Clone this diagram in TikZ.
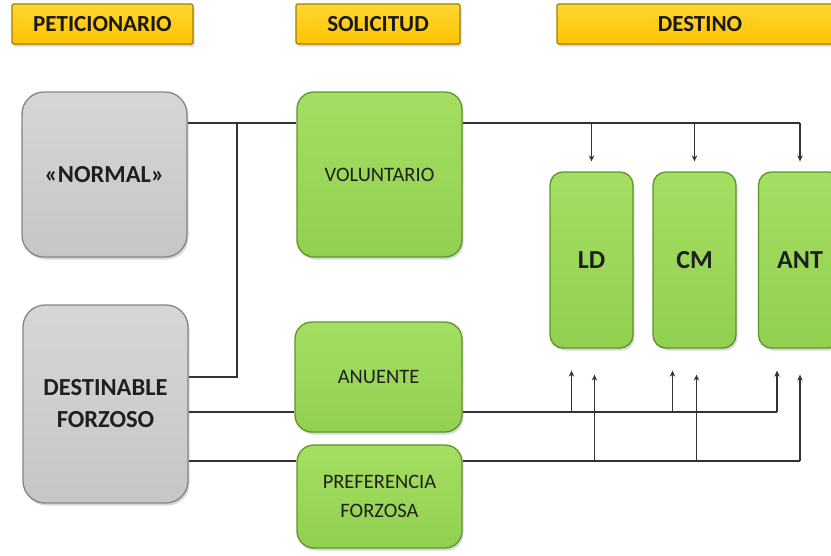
\documentclass[tikz,border=0pt]{standalone}
\usepackage{fontspec}
\setmainfont{Carlito}
\usetikzlibrary{shadows,arrows.meta,calc}
\definecolor{gold}{HTML}{FFC400}
\definecolor{goldlt}{HTML}{FFD633}
\definecolor{golddk}{HTML}{A07E00}
\definecolor{gry}{HTML}{C6C6C6}
\definecolor{grylt}{HTML}{D6D6D6}
\definecolor{grydk}{HTML}{858585}
\definecolor{grn}{HTML}{92D050}
\definecolor{grnlt}{HTML}{A4DE62}
\definecolor{grndk}{HTML}{5B9628}
\definecolor{ln}{HTML}{333333}
\begin{document}
\begin{tikzpicture}[x=1pt,y=-1pt,
  shad/.style={drop shadow={opacity=0.3,shadow xshift=1.5pt,shadow yshift=-2.5pt}},
  hdr/.style={rectangle,draw=golddk,line width=1.3pt,top color=goldlt,bottom color=gold,
    rounded corners=1.5pt,minimum height=40pt,inner sep=0pt,shad,
    font=\bfseries\fontsize{23}{26}\selectfont,text=black!90},
  grybox/.style={rectangle,draw=grydk,line width=1.3pt,top color=grylt,bottom color=gry,
    rounded corners=22pt,minimum width=165pt,inner sep=0pt,shad,align=center,
    font=\bfseries\fontsize{24.5}{32}\selectfont,text=black!88},
  grnbox/.style={rectangle,draw=grndk,line width=1.3pt,top color=grnlt,bottom color=grn,
    rounded corners=17pt,minimum width=165pt,inner sep=0pt,shad,align=center,
    font=\fontsize{20.5}{29}\selectfont,text=black!88},
  dstbox/.style={grnbox,rounded corners=13pt,minimum width=83pt,minimum height=176pt,
    font=\bfseries\fontsize{26}{30}\selectfont},
  conn/.style={draw=ln,line width=1.5pt},
  arr/.style={conn,-{Stealth[length=6pt,width=5.5pt]}}
]
\useasboundingbox (0,0) rectangle (831,555);
\fill[white] (0,0) rectangle (831,555);
\clip (0,0) rectangle (831,555);

% headers
\node[hdr,minimum width=181pt] (hP) at (102.5,24) {PETICIONARIO};
\node[hdr,minimum width=164pt] (hS) at (378,24) {SOLICITUD};
\node[hdr,minimum width=286pt] (hD) at (700,24) {DESTINO};

% peticionario
\node[grybox,minimum height=165pt] (normal) at (104.5,174.5) {«NORMAL»};
\node[grybox,minimum height=198pt] (dest) at (105.5,404) {DESTINABLE\\FORZOSO};

% solicitud
\node[grnbox,minimum height=165pt] (vol) at (379.5,174.5) {VOLUNTARIO};
\node[grnbox,minimum width=167pt,minimum height=110pt] (anu) at (378.5,377) {ANUENTE};
\node[grnbox,minimum height=103pt] (pref) at (379.5,496.5) {PREFERENCIA\\FORZOSA};

% destino
\node[dstbox] (ld) at (591.5,260) {LD};
\node[dstbox] (cm) at (694.5,260) {CM};
\node[dstbox] (ant) at (800,260) {ANT};

% levels
\coordinate (yv) at (0,123);
\coordinate (ya) at (0,412);
\coordinate (yp) at (0,461);
\coordinate (j1) at (237,123);
\coordinate (j2) at (237,377);

% left side
\draw[conn] (normal.east |- yv) -- (vol.west |- yv);
\draw[conn] (dest.east |- j2) -- (j2) -- (j1);
\draw[conn] (dest.east |- ya) -- (anu.west |- ya);
\draw[conn] (dest.east |- yp) -- (pref.west |- yp);

% voluntario -> all destinations
\draw[conn] (vol.east |- yv) -- (ant.north |- yv);
\draw[arr] (ld.north |- yv) -- ($(ld.north)+(0,-10)$);
\draw[arr] (cm.north |- yv) -- ($(cm.north)+(0,-10)$);
\draw[arr] (ant.north |- yv) -- ($(ant.north)+(0,-10)$);

% anuente -> all destinations
\coordinate (a1) at ($(ld.south)+(-20,22)$);
\coordinate (a2) at ($(cm.south)+(-22,22)$);
\coordinate (a3) at ($(ant.south)+(-23,22)$);
\draw[conn] (anu.east |- ya) -- (a3 |- ya);
\draw[arr] (a1 |- ya) -- (a1);
\draw[arr] (a2 |- ya) -- (a2);
\draw[arr] (a3 |- ya) -- (a3);

% preferencia forzosa -> all destinations
\coordinate (p1) at ($(ld.south)+(3,26)$);
\coordinate (p2) at ($(cm.south)+(2,26)$);
\coordinate (p3) at ($(ant.south)+(0,26)$);
\draw[conn] (pref.east |- yp) -- (p3 |- yp);
\draw[arr] (p1 |- yp) -- (p1);
\draw[arr] (p2 |- yp) -- (p2);
\draw[arr] (p3 |- yp) -- (p3);
\end{tikzpicture}
\end{document}
